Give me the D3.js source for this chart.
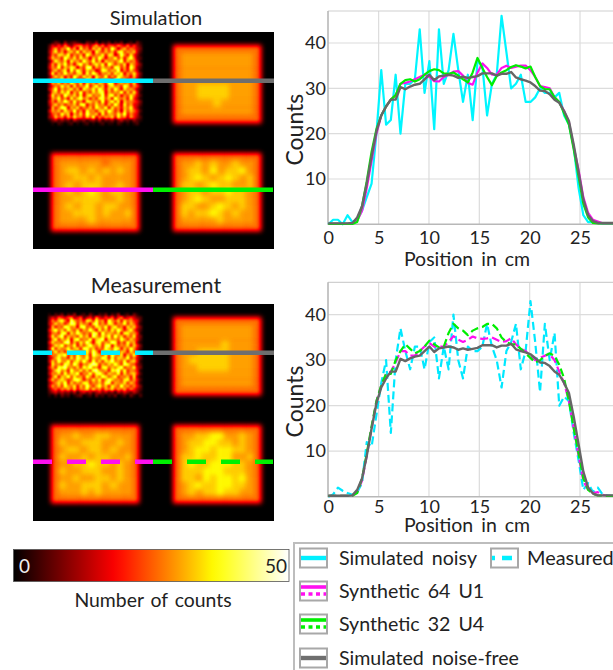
<!DOCTYPE html>
<html><head><meta charset="utf-8">
<script src="https://cdn.jsdelivr.net/npm/d3@7/dist/d3.min.js"></script>
<style>html,body{margin:0;padding:0;background:#fff;overflow:hidden}svg{display:block}text{font-family:Lato,"Open Sans",sans-serif;fill:#222}</style>
</head><body><svg id="c" width="613" height="670"></svg>
<script>
const positions=[0,.48,.96,1.43,1.91,2.39,2.87,3.35,3.82,4.3,4.78,5.26,5.74,6.21,6.69,7.17,7.65,8.13,8.6,9.08,9.56,10.04,10.52,10.99,11.47,11.95,12.43,12.91,13.38,13.86,14.34,14.82,15.3,15.77,16.25,16.73,17.21,17.69,18.16,18.64,19.12,19.6,20.08,20.55,21.03,21.51,21.99,22.47,22.94,23.42,23.9,24.38,24.86,25.33,25.81,26.29,26.77,27.25,27.72,28.2,28.68];
const simNoisy=[0,1,1,0,2,.5,1,3,6,9,20,34,22,23,33,20,31,31,32,43,29,36,21,43,31,34,42,34,27,33,23,36,35,24,31,33,46,38,30,31,33,27,27,28,30,29,29,28,29,24,22,17,8,2,.5,.5,.3,.2,.2,.2,.2];
const noiseFree=[.2,.2,.2,.2,.2,.3,1.5,4,9,15,20.5,24,26,27.5,27.5,30.3,29.8,30.4,30.8,31,32,33,31.8,32.6,32.8,33,32.8,32.3,32.6,32.3,32.5,32.7,33.3,33.3,33.3,32.8,33.2,33.2,33.6,32.4,32,31.7,31.3,30.5,29.5,29.4,28.7,27.5,26.8,25,22.8,17.5,11.5,5.5,2,.7,.3,.3,.3,.3,.3];
const synth64Sim=[.1,.1,.1,.1,.1,.2,.8,3,8,14,20,24,26,27.5,28.5,31,31.2,31.5,32,32.5,33,32.5,31.6,31.5,32.5,33,33.7,33.8,32.8,31.2,30.8,33.5,35.5,34.5,33,33,34.5,35,34.5,34.8,35,35,34,32.5,30.5,30.3,30,28,27,25,22.5,17,12,6,2.5,1,.6,.2,.2,.2,.2];
const synth32Sim=[.1,.1,.1,.1,.1,.1,.5,4,9.5,16,21,24,26,27.5,28.5,31,31.8,32,31.5,32,33,33.8,34.2,34,33.3,33.2,33.5,32.8,32,31.3,33.5,36.7,34.5,32.5,30.7,32.7,33.5,34,34.7,35.1,34.8,34.4,34.8,32.5,30.5,29.8,29.8,28,27,24.5,22,16.5,10.5,4.5,1.5,.3,.2,.2,.2,.2,.2];
const measured=[0,.5,2,1.3,.8,.4,1,3,12,11,18,25,30,14,30,37,32,28,33,33,28,34,35,26,33,28,40,30,26,33,32,32,33,38,33,30,24,32,34,38,28,32,43,34,23,38,30,36,20,22,21,14,8,1.5,3,1,2,.5,.3,.2,.2];
const synth64Meas=[.2,.2,.2,.2,.2,.2,1,3.5,9,15,21,24.5,27,27.5,29.5,32,32,31,31,32,33,33.8,33,33,33,34,35.3,34.5,34,34.5,35.2,34.8,34.7,34.8,35,34.5,34,34.2,34.8,33.5,32.5,32,31,30,30.5,31,31.3,30,27.5,25,21,15,9,3.5,1.5,.8,1,.4,.2,.2,.2];
const synth32Meas=[.2,.2,.2,.2,.2,.2,.8,4,9.5,15.5,21,24.5,27,27,30,32,33.5,32.5,31.5,32,33,34.3,33.5,32.8,33,36,38,37,36.5,35.5,36.5,37,37.3,38,38,37,35,34,33.5,33.5,32.5,31.5,30.5,29.5,30,31,31.5,31,29,26,21,15,9.5,4,1.5,.6,.3,.2,.2,.2,.2];
const xTicks=[0,5,10,15,20,25];
const yTicks=[10,20,30,40];
const legendLabels=["Simulated noisy","Synthetic 64 U1","Synthetic 32 U4","Simulated noise-free"];
const hotStops=[0,18.5,30,36.5,50];
const hotColors=["#000000","#ff0000","#ffa000","#ffff00","#ffffff"];
// one hex digit per cell
const noisySim=[
"013204123210321402130213012031",
"26484a5379a6848b6a4886a75a4842",
"38c6a9f7b4e8a5c9d6b7fa49c7a853",
"49e7b5ac8f6d9b4ea7c8b6de8b9c52",
"3a7dc9e6a8c5fb7a9e6dc48fa6d741",
"5c9a6fb8d7e9a4c8fb5a9e7c6bf932",
"27ea8c5d9b6fa8e7c4d9a8bf6c8a51",
"4b6d9e7a5cf8b6ad9e5fb7a8d4c963",
"5a8f6b9dc4a7ef5b8c9a6ed7b5fa42",
"39c7ad5e8fb6c9a47ed8b9f5a6c851",
"4e6b8f9a7cd5e8fb6a9c7dae5b8d73",
"28d9c5a6fb7e9c4da8f6b7ec9a5c62",
"5b7ae8c9d6a5fb8e7c9a4df8b6a942",
"4c9d6b7fa8e5c9b6da7fe59c8b7d51",
"37a8e9c5d7b9f6ae8c5bd9a7fc6a83",
"59f6b8ad7c4ea9d8fb6c7ea5d9b842",
"2ac7d9e5b8f6a7c9de5b8a9f6c7d61",
"4d8b6fa9c7e5bd8a9f6ce7b5a8d952",
"3b9e7a5d8cf9b6a7de8c5fa9b6e741",
"5a6c9fb7e8a5dc9b7f6ae8d4c9a863",
"49d8b6a9c7ef5a8d9b6c7fa5e8b652",
"2c7afe5b9d6a8c7eb9f5d8a6c9e741",
"5b9c6da8f7b5e9a6cd8fb7a4d8c962",
"38a7e9c4b8d6fa9c5e7ba8d9f6a751",
"46c8a5b7d9a6c8e5a7b9c6d8a5b742",
"135242315324134251324135231421",
"010210120101201012011021010120"];
const noisyMeas=[
"102130214012031021302140120310",
"3649758a4692573a6485937a468532",
"4a7ce95fb8a6dc7e9b5fa8c6d9b762",
"58d9b6afe7c9a5df8b7ec6a9f7c951",
"3c6a8fd9b5ef8a7dc9f6be8a5d9c63",
"6bf9c7ea8d6b9fa5e8c7d9fb6ae842",
"49a7de5c9fb8a7ed6f9ba8c5ed9a71",
"5d8cf6b9a7e9c5fb8dae7f9c6b8d53",
"3ae7b9d5cf8a9e6bdf5c9a8eb7c962",
"6c9a8ef6b7d9fa5ce8b9fd6a7e9b41",
"48dbf7a9e6c8bfa9d7ef5c8a9d6c73",
"5f7c9ae8bd6fe9c7a8fb9ed6c8fa52",
"39e8b6dfa9c7e8fb5dae9f7cb6d961",
"6a9dcf7b8ea9d6fcb8e7fa9d5c8e72",
"47be9a6d8fc9e7ba9fd6e8cb9f7a53",
"5c8fa9e7bd9fa6e8c7dbf9a8e6bc61",
"3d9a7ec8fb6a9dfe7b8c9ea7fd9842",
"6b7edf9a8c7ebf9a6de8b9cf7a9d53",
"48cf9b6ea9d8c7efa9b6dcf8e7a961",
"5a9d7e8cbf6a9e8dfb7ca9e6d8bc72",
"39e6caf8d9b7ea6c9fd8be7a9c6d41",
"6c8bda79efc6a8d9e7bfc9a8de7b62",
"47ad9f6c8b9ed7a9c8ef6ba9d7c951",
"5b8c7ea9d6c8fa7be9c6da8f9b7a63",
"3796a8b7c6a9d7c8a6b9c7a8b6a742",
"246353425146352463524153642531",
"102031201230120312021301203102"];
const cleanSim=["88888888888","89999999998","89999999998","89999999998","89999999998","899aaaa9998","899aaaa9998","89999a99998","89999999998","88888888888"];
const cleanMeas=["88888888888","89999999998","89999999998","899999a9998","899aaaa9998","89aaaaa9998","899aaaa9998","89999999998","89999999998","88888888888"];
const u1Sim=["888888888888","899999989998","89aa9a9a9a98","899aa9a99998","89a9aaa99a98","89a9aba9aa98","899aaaa99a98","89a9aa9aa998","899aaa9a99a8","89999a999998","888888888888"];
const u4Sim=["888888888888","899a9a99a998","89aa9b9aab98","89aba9aba9a8","8aa9abaa99a8","89aa9aabaa98","89aba99aaa98","8aa99aba9a98","8a9aaba9a998","899999a99998","888888888888"];
const u1Meas=["888888888888","899a99aa9998","8a99aaa99a98","89aa9aa9a998","8a99a9aa99a8","899aabaa9a98","8a99aaa99a98","899a99aa9a98","8a99aaa9a998","8999a9a99998","888888888888"];
const u4Meas=["888888888888","899aabb99a98","89aabbaa9a98","89abbabbaa98","8aabaabb99a8","8abaabbbaa98","8aaabbbaaa98","8aa9babbab98","89abaabbaa98","89a9aabaa998","888888888888"];

const svg=d3.select("#c");
const hot=d3.scaleLinear().domain(hotStops).range(hotColors).clamp(true);
const gray=d3.scaleLinear().domain([0,50]).range(["#000","#fff"]);
const defs=svg.append("defs");
const tab=d3.range(0,51).map(v=>d3.rgb(hot(v)));
function heatFilter(id,sd){
  const f=defs.append("filter").attr("id",id).attr("x","-10%").attr("y","-10%").attr("width","120%").attr("height","120%").attr("color-interpolation-filters","sRGB");
  f.append("feGaussianBlur").attr("stdDeviation",sd);
  const t=f.append("feComponentTransfer");
  t.append("feFuncR").attr("type","table").attr("tableValues",tab.map(c=>c.r/255).join(" "));
  t.append("feFuncG").attr("type","table").attr("tableValues",tab.map(c=>c.g/255).join(" "));
  t.append("feFuncB").attr("type","table").attr("tableValues",tab.map(c=>c.b/255).join(" "));
}
heatFilter("sharp",.95);heatFilter("soft",2.8);
const soft1=defs.append("filter").attr("id","lineBlur").attr("x","-5%").attr("y","-5%").attr("width","110%").attr("height","110%");
soft1.append("feGaussianBlur").attr("stdDeviation",.4);

function block(g,rows,q,box,filter,full){
  const b=g.append("g").attr("filter",`url(#${filter})`);
  b.append("rect").attr("x",q[0]-6).attr("y",q[1]-6).attr("width",q[2]+12).attr("height",q[3]+12).attr("fill","#000");
  const n=d3.max(rows,r=>r.length);
  const X=d3.scaleBand().domain(d3.range(n)).range([box[0],box[0]+box[2]]);
  const Y=d3.scaleBand().domain(d3.range(rows.length)).range([box[1],box[1]+box[3]]);
  rows.forEach((r,j)=>{for(let i=0;i<r.length;i++){
    b.append("rect").attr("x",X(i)).attr("y",Y(j)).attr("width",X.bandwidth()+.3).attr("height",Y.bandwidth()+.3)
      .attr("fill",gray(parseInt(r[i],16)*full/15));
  }});
}
let clipN=0;
function heatPanel(top,blocks,dashed){
  const L=33,W=241,H=217;
  const g=svg.append("g");
  const id="pc"+(clipN++);
  defs.append("clipPath").attr("id",id).append("rect").attr("x",L).attr("y",top).attr("width",W).attr("height",H);
  g.append("rect").attr("x",L).attr("y",top).attr("width",W).attr("height",H).attr("fill","#000");
  const inner=g.append("g").attr("clip-path",`url(#${id})`);
  const qs=[[L,top,W/2,H/2],[L+W/2,top,W/2,H/2],[L,top+H/2,W/2,H/2],[L+W/2,top+H/2,W/2,H/2]];
  const bx=[[L+15,top+9,94,84],[L+140,top+13,88,78],[L+18,top+121,88,78],[L+140,top+121,88,78]];
  blocks.forEach((r,i)=>block(inner,r,qs[i],bx[i],i==0?"sharp":"soft",i==0?45:50));
  const y1=top+48.7,y2=top+157.7,mid=L+W/2-.5;
  const dash=dashed?"19 15":null;
  const line=(x1,x2,y,c,d)=>g.append("line").attr("x1",x1).attr("x2",x2).attr("y1",y).attr("y2",y).attr("stroke",c).attr("stroke-width",4.4).attr("stroke-dasharray",d);
  line(L,mid,y1,"#00f0ff",dash);line(mid,L+W,y1,"#6e6e6e",null);
  line(L,mid,y2,"#ff10f0",dash);line(mid,L+W-1,y2,"#00f000",dash);
}
heatPanel(32,[noisySim,cleanSim,u1Sim,u4Sim],false);
heatPanel(304,[noisyMeas,cleanMeas,u1Meas,u4Meas],true);
svg.append("text").attr("x",156).attr("y",25).attr("text-anchor","middle").attr("font-size",20).text("Simulation");
svg.append("text").attr("x",156).attr("y",293).attr("text-anchor","middle").attr("font-size",21.5).text("Measurement");

function chart(y0,y40,top,series,labelY,tickY){
  const x=d3.scaleLinear().domain([0,25]).range([328.3,580]);
  const y=d3.scaleLinear().domain([0,40]).range([y0,y40]);
  const g=svg.append("g");
  const right=613;
  g.selectAll(".gx").data(xTicks.slice(1)).join("line").attr("x1",x).attr("x2",x).attr("y1",top).attr("y2",y0).attr("stroke","#dcdcdc").attr("stroke-width",1.2);
  g.selectAll(".gy").data(yTicks).join("line").attr("x1",328).attr("x2",right).attr("y1",y).attr("y2",y).attr("stroke","#dcdcdc").attr("stroke-width",1.2);
  g.append("line").attr("x1",328).attr("x2",right).attr("y1",top).attr("y2",top).attr("stroke","#d0d0d0").attr("stroke-width",1.2);
  const xa=g.append("g").attr("transform",`translate(0,${y0})`).call(d3.axisBottom(x).tickValues(xTicks).tickSize(0).tickPadding(tickY));
  xa.select(".domain").remove();
  xa.selectAll("text").attr("font-size",18).attr("font-family","Lato").attr("fill","#222");
  const ya=g.append("g").attr("transform","translate(328,0)").call(d3.axisLeft(y).tickValues(yTicks).tickSize(0).tickPadding(2));
  ya.select(".domain").remove();
  ya.selectAll("text").attr("font-size",18).attr("font-family","Lato").attr("fill","#222");
  g.append("line").attr("x1",328).attr("x2",328).attr("y1",top).attr("y2",y0+.5).attr("stroke","#b8b8b8").attr("stroke-width",1.6);
  g.append("line").attr("x1",328).attr("x2",right).attr("y1",y0).attr("y2",y0).attr("stroke","#b8b8b8").attr("stroke-width",1.6);
  const path=d3.line().x((d,i)=>x(positions[i])).y(d=>y(d));
  const lg=g.append("g").attr("filter","url(#lineBlur)");
  series.forEach(s=>lg.append("path").attr("d",path(s.v)).attr("fill","none").attr("stroke",s.c).attr("stroke-width",s.w).attr("stroke-dasharray",s.d).attr("stroke-linejoin","round"));
  g.append("text").attr("x",467).attr("y",labelY).attr("text-anchor","middle").attr("font-size",19.5).attr("word-spacing",3).text("Position in cm");
  g.append("text").attr("transform",`translate(303,${(top+y0)/2+12}) rotate(-90)`).attr("text-anchor","middle").attr("font-size",23).text("Counts");
}
chart(224.3,43,11,[
 {v:simNoisy,c:"#00f5ff",w:2.2},{v:synth64Sim,c:"#ff10f0",w:2.2},{v:synth32Sim,c:"#00ee00",w:2.2},{v:noiseFree,c:"#666",w:2.4}],266,7);
chart(496.7,314.7,282.3,[
 {v:measured,c:"#00e8ff",w:2.2,d:"8 4"},{v:synth64Meas,c:"#ff10f0",w:2.2,d:"8 4"},{v:synth32Meas,c:"#00ee00",w:2.2,d:"8 4"},{v:noiseFree,c:"#666",w:2.4}],532,4);

// colour bar
const grad=defs.append("linearGradient").attr("id","hotGrad");
d3.range(0,51,2).forEach(v=>grad.append("stop").attr("offset",v/50).attr("stop-color",hot(v)));
svg.append("rect").attr("x",13.5).attr("y",549.5).attr("width",275.5).attr("height",32).attr("fill","url(#hotGrad)").attr("stroke","#555").attr("stroke-width",.8);
svg.append("text").attr("x",19).attr("y",573).attr("font-size",19).style("fill","#eee").text("0");
svg.append("text").attr("x",287).attr("y",573).attr("text-anchor","end").attr("font-size",19).text("50");
svg.append("text").attr("x",153).attr("y",607).attr("text-anchor","middle").attr("font-size",19.4).attr("word-spacing",2).text("Number of counts");

// legend
const lgd=svg.append("g");
lgd.append("path").attr("d","M613,543H294V670").attr("fill","none").attr("stroke","#bdbdbd").attr("stroke-width",2);
function swatch(x,cy,c,kind){
  lgd.append("rect").attr("x",x).attr("y",cy-9.5).attr("width",27).attr("height",19).attr("fill","#fff").attr("stroke","#a8a8a8").attr("stroke-width",2);
  const ln=(y,d,w)=>lgd.append("line").attr("x1",x+1).attr("x2",x+26).attr("y1",y).attr("y2",y).attr("stroke",c).attr("stroke-width",w).attr("stroke-dasharray",d);
  if(kind=="solid")ln(cy,null,4.4);
  if(kind=="dash")ln(cy,"3 7 10 7",4.4);
  if(kind=="dot"){ln(cy-4,null,3.6);ln(cy+3,"4 3.5",3.6);}
}
const legendRows=[558,591,624,658];
const legendColors=["#00f0ff","#ff10f0","#00f000","#6e6e6e"];
const legendKinds=["solid","dot","dot","solid"];
legendLabels.forEach((t,i)=>{
  swatch(300,legendRows[i],legendColors[i],legendKinds[i]);
  lgd.append("text").attr("x",339).attr("y",legendRows[i]+6.5).attr("font-size",19.6).attr("word-spacing",3).text(t);
});
swatch(491,legendRows[0],legendColors[0],"dash");
lgd.append("text").attr("x",527).attr("y",legendRows[0]+6.5).attr("font-size",19.9).text("Measured");
</script></body></html>
